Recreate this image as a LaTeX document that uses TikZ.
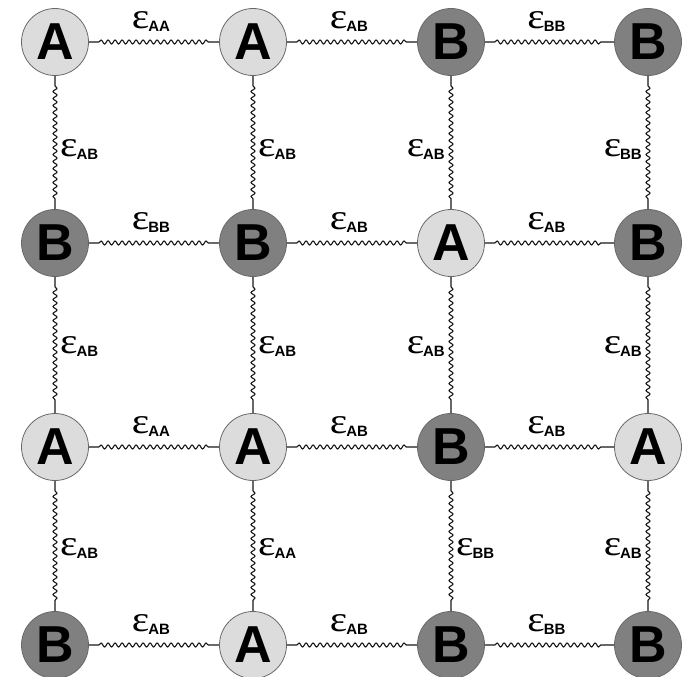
\documentclass[tikz,border=0pt]{standalone}
\usepackage{fontspec}
\setmainfont{Liberation Sans}
\newfontfamily\epsfont{Liberation Serif}
\usetikzlibrary{decorations.pathmorphing,calc}
\definecolor{afill}{RGB}{220,220,220}
\definecolor{bfill}{RGB}{128,128,128}
\definecolor{rim}{RGB}{105,105,105}
\tikzset{
  atom/.style={circle, draw=rim, line width=0.8pt, minimum size=67pt, inner sep=0pt,
    font=\fontsize{52}{52}\selectfont\bfseries},
  atomA/.style={atom, fill=afill},
  atomB/.style={atom, fill=bfill},
  bond/.style={draw=black!90, line width=1.1pt, decorate,
    decoration={snake, segment length=7pt, amplitude=2pt, pre length=10pt, post length=10pt}},
  elab/.style={inner sep=0pt}
}
\newcommand\epsl[1]{{\epsfont\fontsize{36}{36}\selectfont\scalebox{1.15}[1]{ε}}\kern-1pt\raisebox{-3pt}{\fontsize{15}{15}\selectfont\bfseries #1}}
\begin{document}
\begin{tikzpicture}[x=1pt,y=-1pt]
\useasboundingbox (0,0) rectangle (689,677);
\fill[white] (0,0) rectangle (689,677);
% row 1
\node[atomA] (n11) at (55,42) {A};
\node[atomA] (n12) at (253,42) {A};
\node[atomB] (n13) at (451,42) {B};
\node[atomB] (n14) at (648,42) {B};
% row 2
\node[atomB] (n21) at (55,243) {B};
\node[atomB] (n22) at (253,243) {B};
\node[atomA] (n23) at (451,243) {A};
\node[atomB] (n24) at (648,243) {B};
% row 3
\node[atomA] (n31) at (55,447) {A};
\node[atomA] (n32) at (253,447) {A};
\node[atomB] (n33) at (451,447) {B};
\node[atomA] (n34) at (648,447) {A};
% row 4
\node[atomB] (n41) at (55,645) {B};
\node[atomA] (n42) at (253,645) {A};
\node[atomB] (n43) at (451,645) {B};
\node[atomB] (n44) at (648,645) {B};
% horizontal bonds
\foreach \r in {1,2,3,4}{
  \draw[bond] (n\r1) -- (n\r2);
  \draw[bond] (n\r2) -- (n\r3);
  \draw[bond] (n\r3) -- (n\r4);
}
% vertical bonds
\foreach \c in {1,2,3,4}{
  \draw[bond] (n1\c) -- (n2\c);
  \draw[bond] (n2\c) -- (n3\c);
  \draw[bond] (n3\c) -- (n4\c);
}
% horizontal labels
\node[elab] (h11) at ($(n11)!.5!(n12)+(-3,-20)$) {\epsl{AA}};
\node[elab] (h12) at ($(n12)!.5!(n13)+(-3,-20)$) {\epsl{AB}};
\node[elab] (h13) at ($(n13)!.5!(n14)+(-3,-20)$) {\epsl{BB}};
\node[elab] (h21) at ($(n21)!.5!(n22)+(-3,-20)$) {\epsl{BB}};
\node[elab] (h22) at ($(n22)!.5!(n23)+(-3,-20)$) {\epsl{AB}};
\node[elab] (h23) at ($(n23)!.5!(n24)+(-3,-20)$) {\epsl{AB}};
\node[elab] (h31) at ($(n31)!.5!(n32)+(-3,-20)$) {\epsl{AA}};
\node[elab] (h32) at ($(n32)!.5!(n33)+(-3,-20)$) {\epsl{AB}};
\node[elab] (h33) at ($(n33)!.5!(n34)+(-3,-20)$) {\epsl{AB}};
\node[elab] (h41) at ($(n41)!.5!(n42)+(-3,-20)$) {\epsl{AB}};
\node[elab] (h42) at ($(n42)!.5!(n43)+(-3,-20)$) {\epsl{AB}};
\node[elab] (h43) at ($(n43)!.5!(n44)+(-3,-20)$) {\epsl{BB}};
% vertical labels
\node[elab,anchor=west] (v11) at ($(n11)!.5!(n21)+(5,7)$) {\epsl{AB}};
\node[elab,anchor=west] (v12) at ($(n12)!.5!(n22)+(5,7)$) {\epsl{AB}};
\node[elab,anchor=east] (v13) at ($(n13)!.5!(n23)+(-6,7)$) {\epsl{AB}};
\node[elab,anchor=east] (v14) at ($(n14)!.5!(n24)+(-6,7)$) {\epsl{BB}};
\node[elab,anchor=west] (v21) at ($(n21)!.5!(n31)+(5,2)$) {\epsl{AB}};
\node[elab,anchor=west] (v22) at ($(n22)!.5!(n32)+(5,2)$) {\epsl{AB}};
\node[elab,anchor=east] (v23) at ($(n23)!.5!(n33)+(-6,2)$) {\epsl{AB}};
\node[elab,anchor=east] (v24) at ($(n24)!.5!(n34)+(-6,2)$) {\epsl{AB}};
\node[elab,anchor=west] (v31) at ($(n31)!.5!(n41)+(5,3)$) {\epsl{AB}};
\node[elab,anchor=west] (v32) at ($(n32)!.5!(n42)+(5,3)$) {\epsl{AA}};
\node[elab,anchor=west] (v33) at ($(n33)!.5!(n43)+(5,3)$) {\epsl{BB}};
\node[elab,anchor=east] (v34) at ($(n34)!.5!(n44)+(-6,3)$) {\epsl{AB}};
\end{tikzpicture}
\end{document}
